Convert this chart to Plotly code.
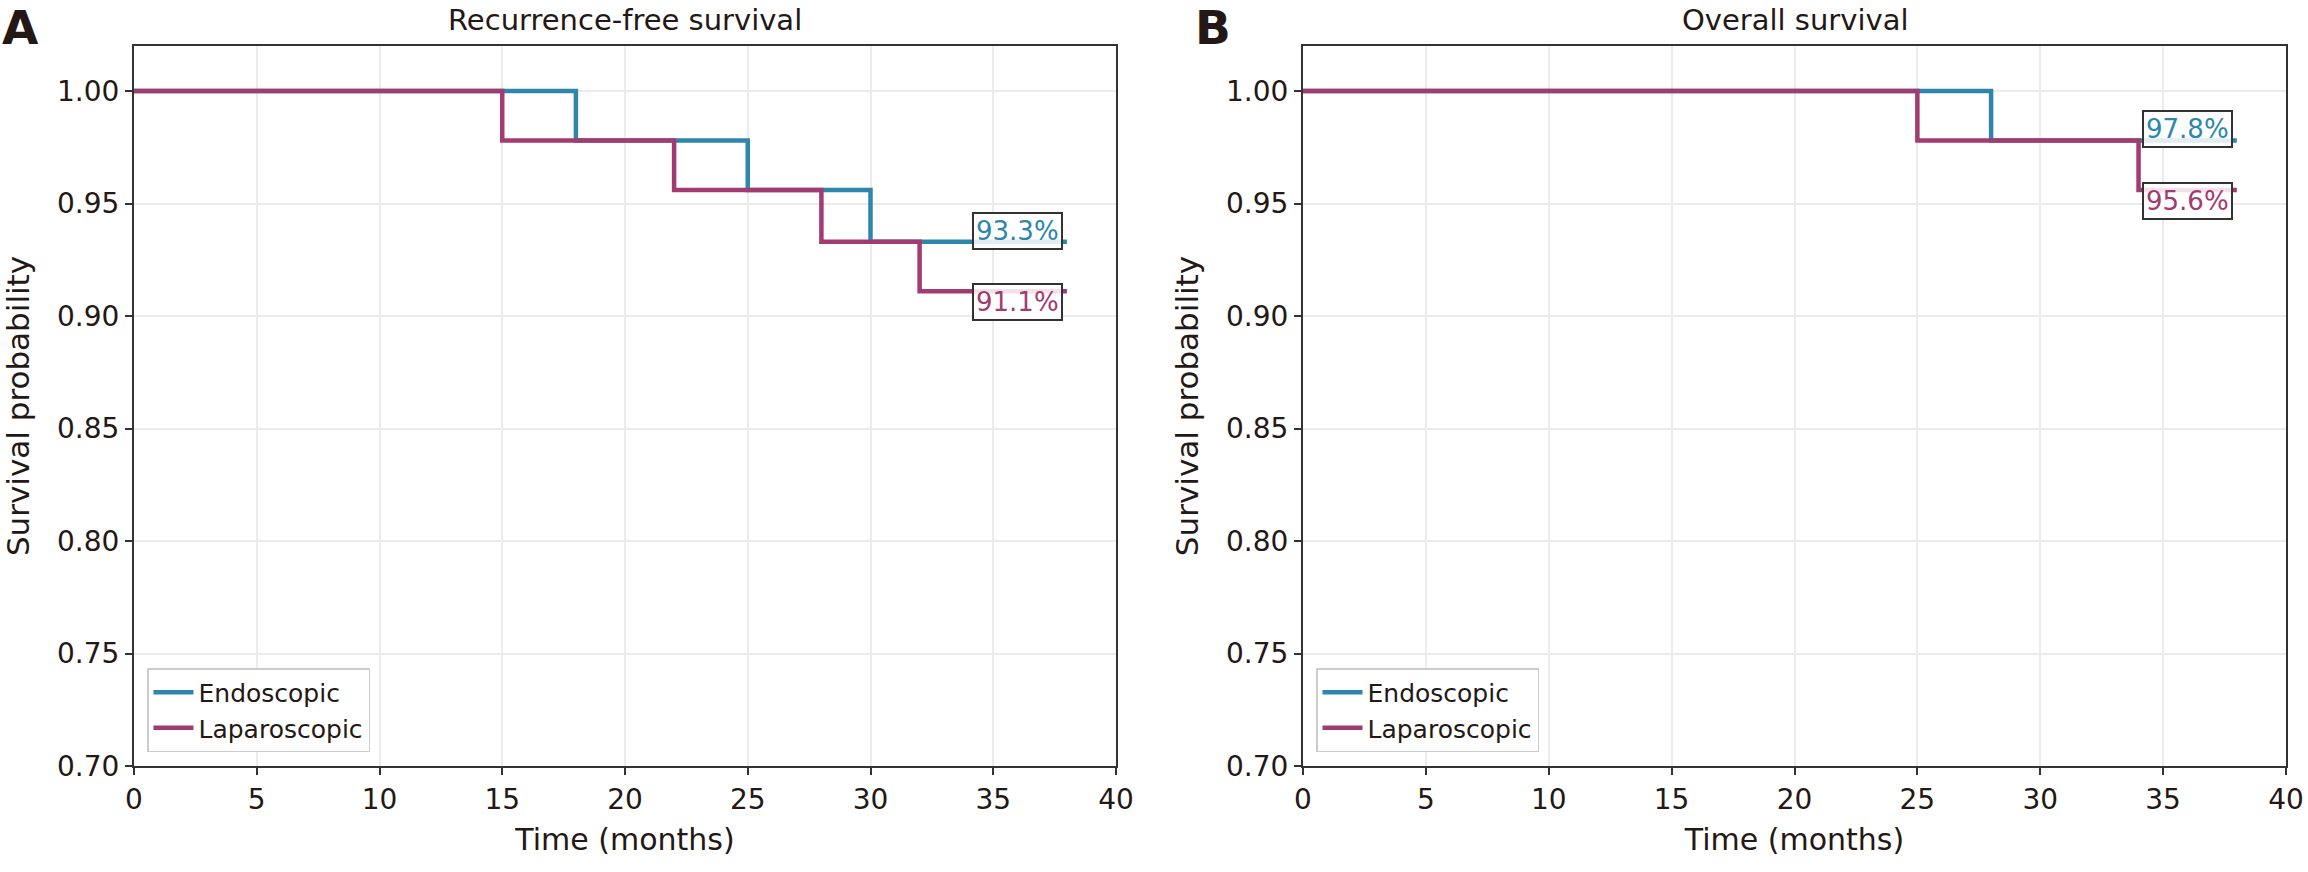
import plotly.graph_objects as go

# ---- data ----
groups = ["Endoscopic", "Laparoscopic"]
colors = {"Endoscopic": "#2E86AB", "Laparoscopic": "#A23B72"}

rfs_time = {"Endoscopic": [0, 18, 25, 30, 38],
            "Laparoscopic": [0, 15, 22, 28, 32, 38]}
rfs_surv = {"Endoscopic": [1.0, 0.978, 0.956, 0.933, 0.933],
            "Laparoscopic": [1.0, 0.978, 0.956, 0.933, 0.911, 0.911]}
rfs_labels = {"Endoscopic": "93.3%", "Laparoscopic": "91.1%"}

os_time = {"Endoscopic": [0, 28, 38],
           "Laparoscopic": [0, 25, 34, 38]}
os_surv = {"Endoscopic": [1.0, 0.978, 0.978],
           "Laparoscopic": [1.0, 0.978, 0.956, 0.956]}
os_labels = {"Endoscopic": "97.8%", "Laparoscopic": "95.6%"}

panel_titles = ["Recurrence-free survival", "Overall survival"]
panel_letters = ["A", "B"]
x_ticks = [0, 5, 10, 15, 20, 25, 30, 35, 40]
y_ticks = [0.70, 0.75, 0.80, 0.85, 0.90, 0.95, 1.00]
label_x = 36

W, H = 2308, 872
FONT = "DejaVu Sans"
TXT = "#231815"

fig = go.Figure()

panels = [(rfs_time, rfs_surv, rfs_labels, "x", "y", "legend"),
          (os_time, os_surv, os_labels, "x2", "y2", "legend2")]

annotations = []
for p, (tt, ss, ll, xa, ya, lg) in enumerate(panels):
    for g in groups:
        fig.add_trace(go.Scatter(
            x=tt[g], y=ss[g], mode="lines", line_shape="hv",
            line=dict(color=colors[g], width=4.5),
            name=g, xaxis=xa, yaxis=ya, legend=lg, showlegend=True))
        up = g == "Endoscopic"
        annotations.append(dict(
            x=label_x, y=ss[g][-1], xref=xa, yref=ya, text=ll[g],
            showarrow=False, yshift=11 if up else -11,
            font=dict(family=FONT, size=26, color=colors[g]),
            bgcolor="rgba(255,255,255,0.85)", bordercolor="#333333",
            borderwidth=2, borderpad=2))

x_domains = [[134 / W, 1116 / W], [1303 / W, 2286 / W]]
y_domain = [1 - 766 / H, 1 - 46 / H]

for p in range(2):
    cx = (x_domains[p][0] + x_domains[p][1]) / 2
    annotations.append(dict(x=cx, y=1 - 20 / H, xref="paper", yref="paper",
                            text=panel_titles[p], showarrow=False,
                            xanchor="center", yanchor="middle",
                            font=dict(family=FONT, size=29, color=TXT)))
letter_x = [0, 1193 / W]
for p in range(2):
    annotations.append(dict(x=letter_x[p], y=1, xref="paper", yref="paper",
                            text="<b>" + panel_letters[p] + "</b>", showarrow=False,
                            xanchor="left", yanchor="top", yshift=2,
                            font=dict(family=FONT, size=47, color=TXT)))

axis_common = dict(
    showline=True, linecolor="#333333", linewidth=2, mirror=True,
    showgrid=True, gridcolor="#ebebeb", gridwidth=1.5,
    ticks="outside", ticklen=7, tickwidth=2, tickcolor="#333333",
    tickfont=dict(family=FONT, size=28, color=TXT),
    zeroline=False, automargin=False,
)

layout = dict(
    width=W, height=H, margin=dict(l=0, r=0, t=0, b=0),
    paper_bgcolor="white", plot_bgcolor="white",
    font=dict(family=FONT, color=TXT),
    annotations=annotations,
)
for p in range(2):
    sx = "" if p == 0 else "2"
    layout["xaxis" + sx] = dict(
        axis_common, domain=x_domains[p], range=[0, 40], tickvals=x_ticks,
        anchor="y" + sx,
        title=dict(text="Time (months)", font=dict(family=FONT, size=30, color=TXT),
                   standoff=14))
    layout["yaxis" + sx] = dict(
        axis_common, domain=y_domain, range=[0.70, 1.02], tickvals=y_ticks,
        tickformat=".2f", anchor="x" + sx,
        title=dict(text="Survival probability", font=dict(family=FONT, size=31, color=TXT),
                   standoff=18))
    lname = "legend" if p == 0 else "legend2"
    layout[lname] = dict(
        x=x_domains[p][0] + 13 / W, y=1 - 752 / H, xanchor="left", yanchor="bottom",
        xref="paper", yref="paper",
        bgcolor="white", bordercolor="#cccccc", borderwidth=1.5,
        font=dict(family=FONT, size=25, color=TXT),
        tracegroupgap=0, itemwidth=40)

fig.update_layout(**layout)
fig.write_html("out.html", config={"displayModeBar": False},
               post_script="document.body.style.margin='0px';")
